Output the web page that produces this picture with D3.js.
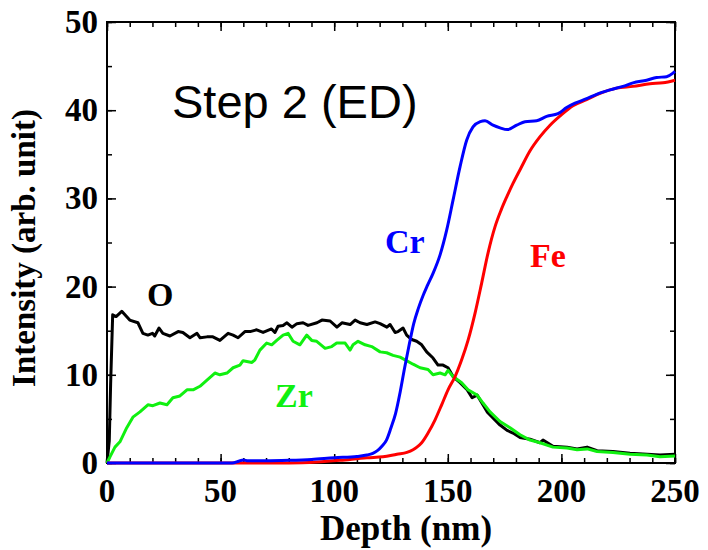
<html>
<head>
<meta charset="utf-8">
<script src="https://cdnjs.cloudflare.com/ajax/libs/d3/7.8.5/d3.min.js"></script>
<style>
  body { margin: 0; background: #fff; }
  text { font-family: "Liberation Serif", "Times New Roman", serif; font-weight: bold; }
</style>
</head>
<body>
<div id="chart"></div>
<script>
// depth (nm), intensity (arb. unit)
var oData = [[0,0],[1,2.5],[1.6,9],[2.5,16.8],[4,16.6],[6.5,17.2],[10,16.2],[13.6,15.9],[15.8,14.7],[18,14.5],[20,14.7],[21,14.4],[22.9,15.3],[24.6,14.7],[27.7,14.4],[31.3,14.9],[33.4,14.8],[36.5,14.2],[39.6,14.7],[41,14.2],[44,14.3],[46.6,14.3],[49.7,13.9],[53.3,14.7],[55.5,14.5],[57.7,14.2],[60.7,14.9],[63,14.9],[65.9,15.1],[68.7,14.8],[72.4,15.2],[73.9,14.8],[75.3,15.5],[77.5,15.6],[79.2,15.9],[81.4,15.4],[83.6,15.8],[86.3,15.9],[88.5,15.6],[92.4,15.9],[94.6,16.2],[98.2,16.1],[101.2,15.4],[103.4,15.9],[107,15.7],[109.2,16.2],[111.4,15.9],[114.4,15.7],[118,16.0],[120.2,15.8],[123.2,15.4],[124.6,15.7],[126.8,14.8],[128.1,14.9],[130.3,15.3],[131.9,14.5],[134.1,14.0],[136.3,13.8],[138.5,13.4],[140.7,12.6],[143.5,11.9],[145.7,11.1],[147.9,11.1],[150.1,10.8],[152.3,9.8],[155.4,9.1],[158.5,8.3],[160.7,7.4],[162.9,7.7],[165,6.8],[167.3,5.8],[169.9,5.1],[173,4.3],[176.1,3.7],[178.7,3.4],[181.8,2.9],[186.2,2.7],[190.6,2.3],[191.9,2.6],[196.3,1.9],[202.5,1.8],[206.9,1.6],[211.3,1.8],[215.7,1.4],[222.7,1.3],[230.2,1.1],[237.7,1.0],[243.4,0.9],[250,1.0]];

var zrData = [[0,0],[1.3,0.7],[3.5,1.8],[5.7,2.4],[8.7,4.0],[11.4,5.2],[14.5,5.8],[18,6.6],[20.2,6.5],[23.3,6.8],[26.4,6.6],[29,7.4],[32.1,7.6],[35.2,8.3],[37.9,8.3],[40.9,8.7],[44,9.4],[47.5,10.2],[49.7,10.0],[52.8,10.2],[55.5,10.8],[58.5,11.1],[59.9,11.6],[63.8,11.4],[65.1,11.7],[67.3,12.8],[70.3,13.6],[72.5,13.4],[74.7,13.9],[77.5,14.5],[79.7,14.7],[81.9,13.8],[84.9,13.4],[87.9,14.5],[90.1,13.9],[92.3,13.8],[96,13.0],[98.9,13.2],[101.1,13.6],[104.8,13.6],[107,12.8],[108.3,13.4],[110.5,13.8],[113.6,13.4],[116.5,13.2],[120.2,12.6],[123.1,12.5],[125.9,12.2],[129,12.0],[131.2,11.7],[134.7,11.2],[137.8,10.8],[141.3,10.6],[143.5,10.0],[146.6,10.2],[148.8,10.0],[150.1,10.5],[152.3,9.8],[156.1,9.1],[158.9,8.3],[162.9,7.7],[165.5,6.8],[168.6,5.8],[173,4.7],[177.4,4.0],[181.8,3.2],[186.2,2.6],[190.6,2.3],[196.3,1.8],[202.5,1.7],[206.9,1.5],[211.3,1.6],[215.7,1.3],[222.7,1.2],[230.2,1.0],[237.7,0.9],[243.4,0.7],[250,0.8]];

var crData = [[0,0],[55,0],[58,0.2],[60,0.35],[62,0.25],[70,0.25],[80,0.3],[90,0.4],[100,0.6],[110,0.75],[114.4,0.9],[117,1.1],[119,1.4],[121,1.9],[123,2.6],[125,4.0],[127,5.6],[129,8.0],[131,10.8],[133,13.4],[135,15.8],[137,17.5],[139,18.9],[141,20.1],[143.5,21.5],[146.6,23.6],[149.5,26.4],[152.3,29.8],[155.4,33.6],[158.3,36.6],[161.1,38.1],[164.3,38.7],[166.4,38.8],[169.9,38.3],[173,38.0],[176.2,37.8],[180.3,38.3],[184,38.7],[189.1,38.8],[193.5,39.3],[198.5,39.6],[202.3,40.3],[206,40.8],[211.1,41.3],[215.5,41.8],[221.4,42.3],[227.1,42.7],[231.5,43.1],[237.5,43.4],[241.9,43.7],[246.3,43.8],[249.1,44.2],[250,44.4]];

var feData = [[0,0],[80,0],[92.4,0.1],[102.6,0.3],[114.4,0.6],[121.5,0.7],[127.6,1.0],[132,1.2],[134.7,1.5],[136.4,1.8],[138.5,2.3],[141.3,3.4],[144.4,4.9],[147.3,6.6],[150.1,8.3],[153.2,9.8],[156.1,11.7],[158.9,13.9],[162,17.0],[164.9,20.4],[167.7,23.8],[170.8,26.8],[173.5,28.7],[176,30.2],[178.7,31.7],[182.3,33.5],[186.2,35.4],[190.6,37.0],[195,38.3],[200.1,39.5],[205.1,40.5],[211.1,41.2],[217,41.9],[224.3,42.5],[231.5,42.7],[239,43.0],[244.7,43.1],[250,43.4]];

var xTicks = [0, 50, 100, 150, 200, 250];
var yTicks = [0, 10, 20, 30, 40, 50];

var W = 708, H = 550;
var m = {left: 107, top: 22, right: 33, bottom: 87};
var w = W - m.left - m.right, h = H - m.top - m.bottom;

var svg = d3.select("#chart").append("svg")
  .attr("width", W).attr("height", H);

var x = d3.scaleLinear().domain([0, 250]).range([0, w]);
var y = d3.scaleLinear().domain([0, 50]).range([h, 0]);

var g = svg.append("g").attr("transform", "translate(" + m.left + "," + m.top + ")");

// minor + major ticks on all four sides, pointing inward
function tickAxis(axis, tr) {
  var a = g.append("g").attr("transform", tr).call(axis);
  a.select(".domain").remove();
  a.selectAll("line").attr("stroke", "#000").attr("stroke-width", 1.5);
  return a;
}
var xMinor = d3.range(0, 251, 10), yMinor = d3.range(0, 51, 5);
tickAxis(d3.axisBottom(x).tickValues(xMinor).tickSize(-5).tickFormat(""), "translate(0," + h + ")");
tickAxis(d3.axisBottom(x).tickValues(xTicks).tickSize(-9).tickFormat(""), "translate(0," + h + ")");
tickAxis(d3.axisTop(x).tickValues(xMinor).tickSize(-5).tickFormat(""), "translate(0,0)");
tickAxis(d3.axisTop(x).tickValues(xTicks).tickSize(-9).tickFormat(""), "translate(0,0)");
tickAxis(d3.axisLeft(y).tickValues(yMinor).tickSize(-5).tickFormat(""), "translate(0,0)");
tickAxis(d3.axisLeft(y).tickValues(yTicks).tickSize(-9).tickFormat(""), "translate(0,0)");
tickAxis(d3.axisRight(y).tickValues(yMinor).tickSize(-5).tickFormat(""), "translate(" + w + ",0)");
tickAxis(d3.axisRight(y).tickValues(yTicks).tickSize(-9).tickFormat(""), "translate(" + w + ",0)");

// tick labels
g.selectAll(".xl").data(xTicks).enter().append("text")
  .attr("x", function(d){ return x(d); }).attr("y", h + 39)
  .attr("text-anchor", "middle").style("font-size", "33px").text(function(d){ return d; });
g.selectAll(".yl").data(yTicks).enter().append("text")
  .attr("x", -9).attr("y", function(d){ return y(d) + 11; })
  .attr("text-anchor", "end").style("font-size", "33px").text(function(d){ return d; });

// frame
g.append("rect").attr("width", w).attr("height", h)
  .attr("fill", "none").attr("stroke", "#000").attr("stroke-width", 2);

// curves
var line = d3.line().x(function(d){ return x(d[0]); }).y(function(d){ return y(d[1]); });
var smooth = d3.line().curve(d3.curveMonotoneX).x(function(d){ return x(d[0]); }).y(function(d){ return y(d[1]); });

var series = [
  {data: oData, color: "#000000", gen: line},
  {data: zrData, color: "#10f010", gen: line},
  {data: feData, color: "#ff0000", gen: smooth},
  {data: crData, color: "#0000ff", gen: smooth}
];
series.forEach(function(s){
  g.append("path").datum(s.data)
    .attr("fill", "none").attr("stroke", s.color)
    .attr("stroke-width", 3).attr("stroke-linejoin", "round")
    .attr("d", s.gen);
});

// curve labels
var labels = [
  {t: "O", x: 147, y: 306, c: "#000000"},
  {t: "Zr", x: 275, y: 407, c: "#10f010"},
  {t: "Cr", x: 385, y: 253, c: "#0000ff"},
  {t: "Fe", x: 530, y: 267, c: "#ff0000"}
];
svg.selectAll(".cl").data(labels).enter().append("text")
  .attr("x", function(d){ return d.x; }).attr("y", function(d){ return d.y; })
  .style("font-size", "34px").attr("fill", function(d){ return d.c; })
  .text(function(d){ return d.t; });

svg.append("text").attr("x", 172).attr("y", 118)
  .style("font-family", "'Liberation Sans', Arial, sans-serif").style("font-weight", "normal")
  .style("font-size", "47px").text("Step 2 (ED)");

// axis titles
svg.append("text").attr("x", 406).attr("y", 540).attr("text-anchor", "middle")
  .style("font-size", "35px").text("Depth (nm)");
svg.append("text").attr("transform", "translate(35,248) rotate(-90)")
  .attr("text-anchor", "middle").style("font-size", "33px").text("Intensity (arb. unit)");
</script>
</body>
</html>
